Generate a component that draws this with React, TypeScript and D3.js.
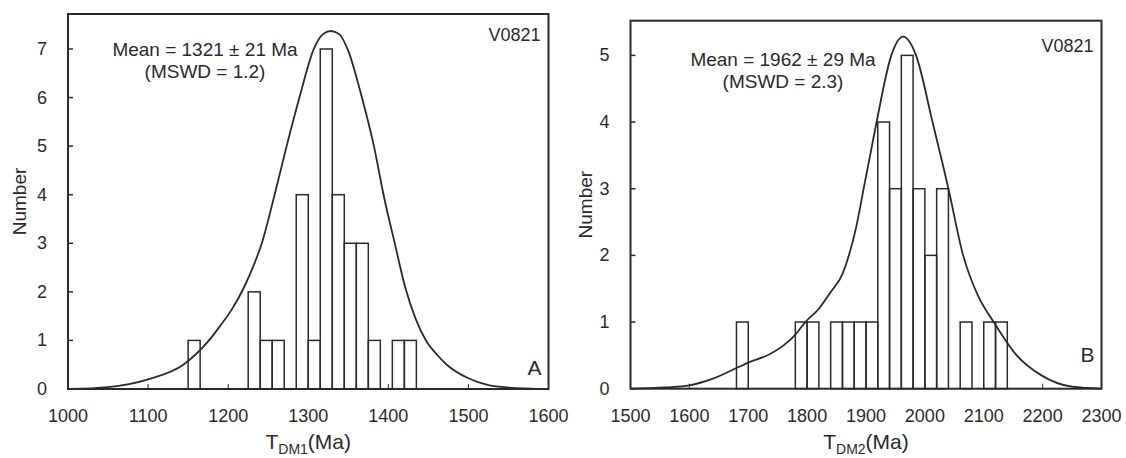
import React from "react";
import * as d3 from "d3";

// ---- Panel A data (T_DM1) ----
const aBinStarts = [1150, 1225, 1240, 1255, 1285, 1300, 1315, 1330, 1345, 1360, 1375, 1405, 1420];
const aCounts = [1, 2, 1, 1, 4, 1, 7, 4, 3, 3, 1, 1, 1];
const aBinWidth = 15;
const aCurveAge = [1000, 1050, 1100, 1144, 1160, 1175, 1190, 1205, 1220, 1232, 1242, 1258, 1273, 1289, 1307, 1318, 1328, 1339, 1349, 1367, 1382, 1394, 1408, 1421, 1434, 1447, 1460, 1473, 1500, 1525, 1550, 1600];
const aCurveVal = [0, 0.04, 0.2, 0.5, 0.72, 0.98, 1.3, 1.65, 2.1, 2.55, 3, 4, 5, 6, 7, 7.3, 7.37, 7.3, 7, 6, 5, 4, 3, 2.1, 1.45, 1, 0.72, 0.5, 0.22, 0.08, 0.03, 0];
const aXTicks = [1000, 1100, 1200, 1300, 1400, 1500, 1600];
const aYTicks = [0, 1, 2, 3, 4, 5, 6, 7];

// ---- Panel B data (T_DM2) ----
const bBinStarts = [1680, 1780, 1800, 1840, 1860, 1880, 1900, 1920, 1940, 1960, 1980, 2000, 2020, 2060, 2100, 2120];
const bCounts = [1, 1, 1, 1, 1, 1, 1, 4, 3, 5, 3, 2, 3, 1, 1, 1];
const bBinWidth = 20;
const bCurveAge = [1500, 1560, 1600, 1640, 1680, 1700, 1737, 1760, 1779, 1797, 1820, 1840, 1860, 1871, 1884, 1896, 1907, 1918, 1943, 1963, 1985, 2013, 2040, 2065, 2090, 2117, 2156, 2198, 2250, 2300];
const bCurveVal = [0, 0.02, 0.05, 0.15, 0.31, 0.39, 0.52, 0.65, 0.8, 1, 1.2, 1.45, 1.72, 2, 2.45, 3, 3.5, 4, 5, 5.28, 5, 4, 3, 2, 1.4, 1, 0.5, 0.2, 0.03, 0];
const bXTicks = [1500, 1600, 1700, 1800, 1900, 2000, 2100, 2200, 2300];
const bYTicks = [0, 1, 2, 3, 4, 5];

const FONT = "'Liberation Sans', Arial, Helvetica, sans-serif";
const INK = "#2a2a2a";

type PanelProps = {
  left: number; right: number; top: number; bottom: number;
  xDomain: [number, number]; yMax: number;
  binStarts: number[]; counts: number[]; binWidth: number;
  curveAge: number[]; curveVal: number[];
  xTicks: number[]; yTicks: number[];
  meanText: string; mswdText: string; textX: number; textY: number;
  sample: string; letter: string; letterY: number; sampleY: number;
  sub: string; yLabelX: number;
};

function Panel(p: PanelProps) {
  const x = d3.scaleLinear().domain(p.xDomain).range([p.left, p.right]);
  const y = d3.scaleLinear().domain([0, p.yMax]).range([p.bottom, p.top]);
  const pts = p.curveAge.map((a, i) => [a, p.curveVal[i]] as [number, number]);
  const line = d3.line<[number, number]>().x(d => x(d[0])).y(d => y(d[1])).curve(d3.curveMonotoneX);
  const cx = (p.left + p.right) / 2;
  const cy = (p.top + p.bottom) / 2;
  return (
    <g fontFamily={FONT} fill={INK}>
      {p.binStarts.map((b, i) => (
        <rect key={i} x={x(b)} y={y(p.counts[i])} width={x(b + p.binWidth) - x(b)} height={y(0) - y(p.counts[i])}
          fill="none" stroke={INK} strokeWidth={1.5} />
      ))}
      <path d={line(pts) || ""} fill="none" stroke={INK} strokeWidth={1.8} />
      <rect x={p.left} y={p.top} width={p.right - p.left} height={p.bottom - p.top} fill="none" stroke={INK} strokeWidth={2} />
      {p.xTicks.map(t => (
        <g key={t}>
          <line x1={x(t)} x2={x(t)} y1={p.bottom} y2={p.bottom - 5} stroke={INK} strokeWidth={1} />
          <text x={x(t)} y={p.bottom + 33} textAnchor="middle" fontSize={18}>{t}</text>
        </g>
      ))}
      {p.yTicks.map(t => (
        <g key={t}>
          <line x1={p.left} x2={p.left + 5} y1={y(t)} y2={y(t)} stroke={INK} strokeWidth={1.5} />
          <text x={p.left - 21} y={y(t)} textAnchor="end" dominantBaseline="central" fontSize={18}>{t}</text>
        </g>
      ))}
      <text transform={`translate(${p.yLabelX},${cy}) rotate(-90)`} textAnchor="middle" dominantBaseline="central" fontSize={19}>Number</text>
      <text x={cx} y={449} textAnchor="middle" fontSize={21}>
        T<tspan fontSize={14} dy={5}>{p.sub}</tspan><tspan dy={-5}>(Ma)</tspan>
      </text>
      <text x={p.textX} y={p.textY} textAnchor="middle" fontSize={19}>{p.meanText}</text>
      <text x={p.textX} y={p.textY + 22} textAnchor="middle" fontSize={19}>{p.mswdText}</text>
      <text x={p.right - 8} y={p.sampleY} textAnchor="end" fontSize={18}>{p.sample}</text>
      <text x={p.right - 7} y={p.letterY} textAnchor="end" fontSize={21}>{p.letter}</text>
    </g>
  );
}

export default function App() {
  return (
    <svg width={1126} height={458} style={{ position: "absolute", left: 0, top: 0, background: "#fff" }}>
      <rect x={0} y={0} width={1126} height={458} fill="#fff" />
      <Panel left={68} right={548.5} top={14} bottom={389} xDomain={[1000, 1600]} yMax={7.72}
        binStarts={aBinStarts} counts={aCounts} binWidth={aBinWidth}
        curveAge={aCurveAge} curveVal={aCurveVal} xTicks={aXTicks} yTicks={aYTicks}
        meanText="Mean = 1321 ± 21 Ma" mswdText="(MSWD = 1.2)" textX={205} textY={56}
        sample="V0821" sampleY={41} letter="A" letterY={375} sub="DM1" yLabelX={19} />
      <Panel left={630.5} right={1101.5} top={20.7} bottom={388.7} xDomain={[1500, 2300]} yMax={5.52}
        binStarts={bBinStarts} counts={bCounts} binWidth={bBinWidth}
        curveAge={bCurveAge} curveVal={bCurveVal} xTicks={bXTicks} yTicks={bYTicks}
        meanText="Mean = 1962 ± 29 Ma" mswdText="(MSWD = 2.3)" textX={783} textY={66}
        sample="V0821" sampleY={52} letter="B" letterY={362} sub="DM2" yLabelX={585} />
    </svg>
  );
}
